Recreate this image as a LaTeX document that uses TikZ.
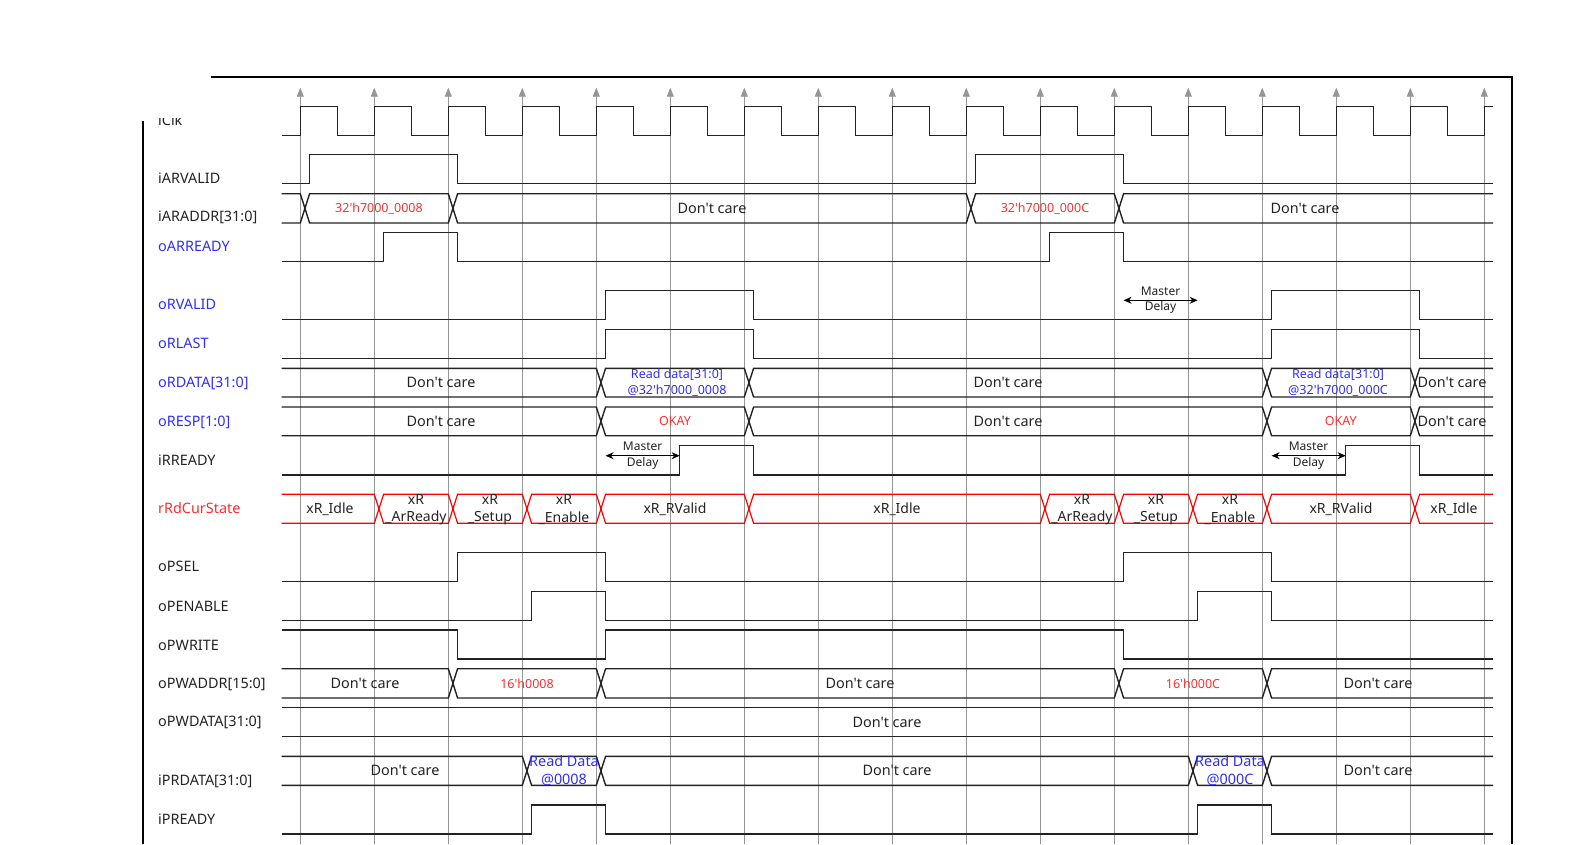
\documentclass[tikz,border=0pt]{standalone}
\usepackage{fontspec}
\setmainfont{Noto Sans}[Ligatures=TeXOff]
\usetikzlibrary{arrows.meta}
\definecolor{wblack}{RGB}{35,35,35}
\definecolor{wblue}{RGB}{45,45,255}
\definecolor{wred}{RGB}{255,45,45}
\definecolor{sred}{RGB}{255,0,0}
\definecolor{wgray}{RGB}{150,150,150}
\def\xS{281.7}
\def\xF{1493}
\def\dly{9.3}
\newcommand\twopulse[6]{\draw[sig] (\xS,#2) -| ({edg(#3)+\dly},#1) -| ({edg(#4)+\dly},#2) -| ({edg(#5)+\dly},#1) -| ({edg(#6)+\dly},#2) -- (\xF,#2);}
\newcommand\bS[4][sig]{\draw[#1] (\xS,#2) -- ({edg(#4)},#2) -- ({edg(#4)+\dly/2},{(#2+#3)/2}) -- ({edg(#4)},#3) -- (\xS,#3);}
\newcommand\bM[5][sig]{\draw[#1] ({edg(#4)+\dly/2},{(#2+#3)/2}) -- ({edg(#4)+\dly},#2) -- ({edg(#5)},#2) -- ({edg(#5)+\dly/2},{(#2+#3)/2}) -- ({edg(#5)},#3) -- ({edg(#4)+\dly},#3) -- cycle;}
\newcommand\bE[4][sig]{\draw[#1] (\xF,#2) -- ({edg(#4)+\dly},#2) -- ({edg(#4)+\dly/2},{(#2+#3)/2}) -- ({edg(#4)+\dly},#3) -- (\xF,#3);}
\begin{document}
\begin{tikzpicture}[x=1pt,y=-1pt,
 declare function={edg(\k)=300.3+74*\k;},
 sig/.style={draw=wblack,line width=1.4pt,line join=miter},
 ssig/.style={draw=sred,line width=1.2pt},
 gridln/.style={draw=wgray,line width=0.9pt,-{Triangle[width=7pt,length=9pt]}},
 frm/.style={draw=black,line width=1.8pt},
 lbl/.style={anchor=base west,inner sep=0pt,font=\fontsize{14.4}{17}\selectfont,text=wblack},
 dc/.style={inner sep=0pt,font=\fontsize{14.4}{17.6}\selectfont,text=wblack,align=center},
 val/.style={inner sep=0pt,font=\fontsize{12.5}{15.7}\selectfont,align=center},
 st/.style={inner sep=0pt,font=\fontsize{14}{17.3}\selectfont,align=center,text=wblack},
 md/.style={inner sep=0pt,font=\fontsize{12}{15.6}\selectfont,align=center,text=wblack},
 mdarr/.style={draw=black,line width=0.9pt,{Stealth[length=8pt,width=7pt]}-{Stealth[length=8pt,width=7pt]}},
]
\useasboundingbox (0,0) rectangle (1590,844);
% clipped iClk label
\node[lbl] (lclk) at (158,125) {iClk};
\fill[white] (0,0) rectangle (210,118.3);
% frame
\draw[frm] (211,76.7) -- (1511.7,76.7) -- (1511.7,844);
\draw[frm] (143,121) -- (143,844);
% grid lines with arrows
\foreach \k in {0,...,16} \draw[gridln] ({edg(\k)},844) -- ({edg(\k)},87.7);
% labels
\node[lbl] (lARVALID) at (158,183.5) {iARVALID};
\node[lbl] (lARADDR) at (158,221.9) {iARADDR[31:0]};
\node[lbl,text=wblue] (lARREADY) at (158,251.9) {oARREADY};
\node[lbl,text=wblue] (lRVALID) at (158,309.5) {oRVALID};
\node[lbl,text=wblue] (lRLAST) at (158,348.5) {oRLAST};
\node[lbl,text=wblue] (lRDATA) at (158,387.9) {oRDATA[31:0]};
\node[lbl,text=wblue] (lRESP) at (158,426.2) {oRESP[1:0]};
\node[lbl] (lRREADY) at (158,465.2) {iRREADY};
\node[lbl,text=wred] (lState) at (158,513.5) {rRdCurState};
\node[lbl] (lPSEL) at (158,571.9) {oPSEL};
\node[lbl] (lPENABLE) at (158,611.2) {oPENABLE};
\node[lbl] (lPWRITE) at (158,650.2) {oPWRITE};
\node[lbl] (lPWADDR) at (158,688.5) {oPWADDR[15:0]};
\node[lbl] (lPWDATA) at (158,726.9) {oPWDATA[31:0]};
\node[lbl] (lPRDATA) at (158,785.2) {iPRDATA[31:0]};
\node[lbl] (lPREADY) at (158,824.5) {iPREADY};
% clock
\draw[sig] (\xS,135.3) foreach \k in {0,...,15} { -| ({edg(\k)},106.7) -| ({edg(\k)+37},135.3) } -| ({edg(16)},106.7) -- (\xF,106.7);
% single-bit signals
\twopulse{154.7}{183.7}{0}{2}{9}{11}
\twopulse{232.7}{261.3}{1}{2}{10}{11}
\twopulse{290.7}{319.7}{4}{6}{13}{15}
\twopulse{329.3}{358.3}{4}{6}{13}{15}
\twopulse{445.7}{475}{5}{6}{14}{15}
\twopulse{552.7}{581.7}{2}{4}{11}{13}
\twopulse{591.7}{620.3}{3}{4}{12}{13}
\draw[sig] (\xS,630) -| ({edg(2)+\dly},659) -| ({edg(4)+\dly},630) -| ({edg(11)+\dly},659) -- (\xF,659);
\twopulse{805}{834}{3}{4}{12}{13}
% iARADDR bus
\bS{193.7}{223}{0}
\bM{193.7}{223}{0}{2}
\bM{193.7}{223}{2}{9}
\bM{193.7}{223}{9}{11}
\bE{193.7}{223}{11}
\node[val,text=wred] (a1) at (379,208.3) {32'h7000\_0008};
\node[dc] (a2) at (712,208.3) {Don't care};
\node[val,text=wred] (a3) at (1045,208.3) {32'h7000\_000C};
\node[dc] (a4) at (1305,208.3) {Don't care};
% oRDATA bus
\bS{368.3}{397}{4}
\bM{368.3}{397}{4}{6}
\bM{368.3}{397}{6}{13}
\bM{368.3}{397}{13}{15}
\bE{368.3}{397}{15}
\node[dc] (d1) at (441,382.6) {Don't care};
\node[val,text=wblue] (d2) at (677,382.6) {Read data[31:0]\\@32'h7000\_0008};
\node[dc] (d3) at (1008,382.6) {Don't care};
\node[val,text=wblue] (d4) at (1338,382.6) {Read data[31:0]\\@32'h7000\_000C};
\node[dc] (d5) at (1452,382.6) {Don't care};
% oRESP bus
\bS{407}{435.7}{4}
\bM{407}{435.7}{4}{6}
\bM{407}{435.7}{6}{13}
\bM{407}{435.7}{13}{15}
\bE{407}{435.7}{15}
\node[dc] (r1) at (441,421.3) {Don't care};
\node[val,text=wred] (r2) at (675,421.3) {OKAY};
\node[dc] (r3) at (1008,421.3) {Don't care};
\node[val,text=wred] (r4) at (1340.7,421.3) {OKAY};
\node[dc] (r5) at (1452,421.3) {Don't care};
% Master delay annotations
\coordinate (m0a) at ({edg(11)+\dly},300.3);
\coordinate (m0b) at ({edg(12)+\dly},300.3);
\draw[mdarr] (m0a) -- (m0b);
\node[md] (m0) at (1160.5,300.3) {Master\\Delay};
\coordinate (m1a) at ({edg(4)+\dly},455.7);
\coordinate (m1b) at ({edg(5)+\dly},455.7);
\draw[mdarr] (m1a) -- (m1b);
\node[md] (m1) at (642.7,455.5) {Master\\Delay};
\coordinate (m2a) at ({edg(13)+\dly},455.7);
\coordinate (m2b) at ({edg(14)+\dly},455.7);
\draw[mdarr] (m2a) -- (m2b);
\node[md] (m2) at (1308.5,455.5) {Master\\Delay};
% rRdCurState
\bS[ssig]{494.3}{523.3}{1}
\bM[ssig]{494.3}{523.3}{1}{2}
\bM[ssig]{494.3}{523.3}{2}{3}
\bM[ssig]{494.3}{523.3}{3}{4}
\bM[ssig]{494.3}{523.3}{4}{6}
\bM[ssig]{494.3}{523.3}{6}{10}
\bM[ssig]{494.3}{523.3}{10}{11}
\bM[ssig]{494.3}{523.3}{11}{12}
\bM[ssig]{494.3}{523.3}{12}{13}
\bM[ssig]{494.3}{523.3}{13}{15}
\bE[ssig]{494.3}{523.3}{15}
\node[st] (s1) at (330,508.8) {xR\_Idle};
\node[st] (s2) at (416,509.5) {xR\\\_ArReady};
\node[st] (s3) at (490,509.5) {xR\\\_Setup};
\node[st] (s4) at (564,509.5) {xR\\\_Enable};
\node[st] (s5) at (675,508.8) {xR\_RValid};
\node[st] (s6) at (897,508.8) {xR\_Idle};
\node[st] (s7) at (1082,509.5) {xR\\\_ArReady};
\node[st] (s8) at (1156,509.5) {xR\\\_Setup};
\node[st] (s9) at (1230,509.5) {xR\\\_Enable};
\node[st] (s10) at (1341,508.8) {xR\_RValid};
\node[st] (s11) at (1454,508.8) {xR\_Idle};
% oPWADDR bus
\bS{668.7}{698}{2}
\bM{668.7}{698}{2}{4}
\bM{668.7}{698}{4}{11}
\bM{668.7}{698}{11}{13}
\bE{668.7}{698}{13}
\node[dc] (w1) at (365,683.4) {Don't care};
\node[val,text=wred] (w2) at (527,683.4) {16'h0008};
\node[dc] (w3) at (860,683.4) {Don't care};
\node[val,text=wred] (w4) at (1193,683.4) {16'h000C};
\node[dc] (w5) at (1378,683.4) {Don't care};
% oPWDATA bus
\draw[sig] (\xS,707.7) -- (\xF,707.7);
\draw[sig] (\xS,736.7) -- (\xF,736.7);
\node[dc] (wd1) at (887,722.2) {Don't care};
% iPRDATA bus
\bS{756.3}{785.3}{3}
\bM{756.3}{785.3}{3}{4}
\bM{756.3}{785.3}{4}{12}
\bM{756.3}{785.3}{12}{13}
\bE{756.3}{785.3}{13}
\node[dc] (p1) at (405,770.8) {Don't care};
\node[dc,text=wblue] (p2) at (564,770.8) {Read Data\\@0008};
\node[dc] (p3) at (897,770.8) {Don't care};
\node[dc,text=wblue] (p4) at (1230,770.8) {Read Data\\@000C};
\node[dc] (p5) at (1378,770.8) {Don't care};
\end{tikzpicture}
\end{document}
